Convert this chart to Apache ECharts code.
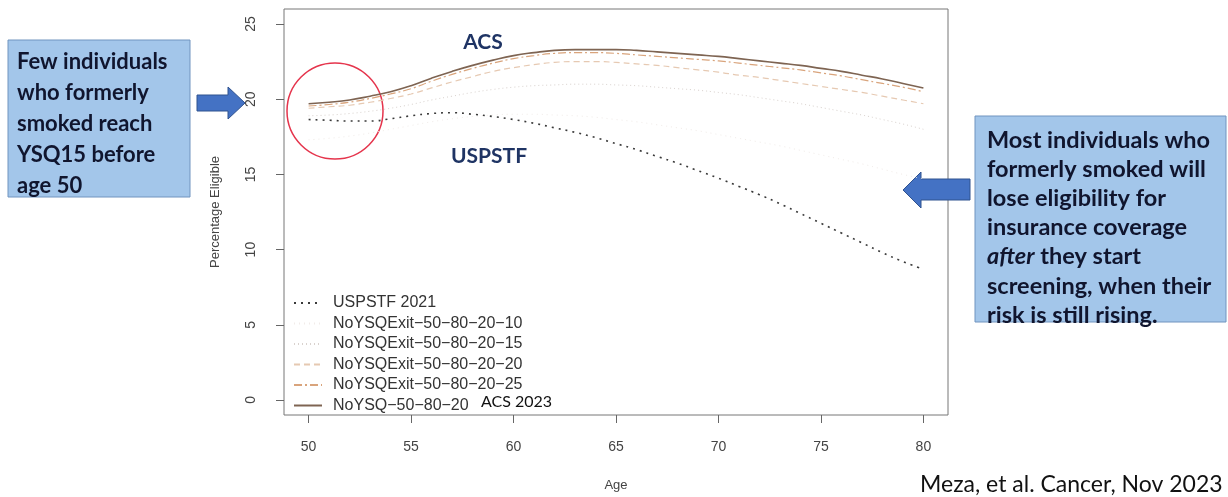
<!DOCTYPE html>
<html>
<head>
<meta charset="utf-8">
<script src="https://cdn.jsdelivr.net/npm/echarts@6/dist/echarts.min.js"></script>
<style>
  html, body { margin: 0; padding: 0; background: #fff; }
  #chart { width: 1228px; height: 497px; }
</style>
</head>
<body>
<div id="chart"></div>
<script>
// ages on the x axis
const ages = [50,51,52,53,54,55,56,57,58,59,60,61,62,63,64,65,66,67,68,69,70,71,72,73,74,75,76,77,78,79,80];

// percentage eligible
const uspstf2021 = [18.65,18.6,18.55,18.55,18.7,18.9,19.05,19.1,19.0,18.85,18.65,18.4,18.1,17.8,17.45,17.05,16.65,16.2,15.75,15.25,14.75,14.2,13.65,13.05,12.4,11.75,11.1,10.45,9.8,9.2,8.7];
const exit10 = [17.3,17.4,17.55,17.75,18.0,18.25,18.5,18.7,18.85,18.95,19.0,19.0,18.95,18.9,18.8,18.65,18.5,18.3,18.1,17.9,17.65,17.4,17.15,16.9,16.6,16.3,16.0,15.7,15.35,15.0,14.7];
const exit15 = [18.9,18.95,19.05,19.2,19.4,19.65,19.95,20.2,20.45,20.65,20.8,20.9,20.95,21.0,21.0,20.95,20.9,20.8,20.7,20.6,20.45,20.3,20.1,19.9,19.7,19.45,19.2,18.95,18.65,18.35,18.0];
const exit20 = [19.4,19.5,19.6,19.8,20.05,20.35,20.75,21.15,21.5,21.85,22.1,22.3,22.45,22.5,22.5,22.45,22.35,22.25,22.1,21.95,21.8,21.6,21.45,21.25,21.05,20.85,20.65,20.45,20.2,19.95,19.7];
const exit25 = [19.55,19.65,19.8,20.05,20.35,20.7,21.2,21.65,22.05,22.4,22.7,22.9,23.05,23.1,23.1,23.05,22.95,22.85,22.75,22.65,22.55,22.4,22.25,22.1,21.95,21.75,21.55,21.3,21.05,20.8,20.5];
const noYsq = [19.7,19.8,19.95,20.2,20.5,20.9,21.4,21.85,22.25,22.6,22.9,23.1,23.25,23.3,23.3,23.3,23.25,23.15,23.05,22.95,22.85,22.7,22.55,22.4,22.25,22.05,21.85,21.6,21.35,21.05,20.75];

const xTicks = [50,55,60,65,70,75,80];
const yTicks = [0,5,10,15,20,25];

const leftNote = ['Few individuals', 'who formerly', 'smoked reach', 'YSQ15 before', 'age 50'];
const rightNote = ['Most individuals who', 'formerly smoked will', 'lose eligibility for', 'insurance coverage', '{i|after} they start', 'screening, when their', 'risk is still rising.'];

function pairs(vals) {
  return ages.map((a, i) => [a, vals[i]]);
}

const chart = echarts.init(document.getElementById('chart'));

const axisFont = 'Liberation Sans, Arial, sans-serif';
const noteFont = 'Lato, "Open Sans", sans-serif';
const navy = '#1f3464';

function line(name, vals, color, width, type) {
  return {
    name: name,
    type: 'line',
    data: pairs(vals),
    symbol: 'none',
    smooth: true,
    silent: true,
    lineStyle: { color: color, width: width, type: type },
    itemStyle: { color: color }
  };
}

let graphics = [];
// left note box
graphics.push({
  type: 'rect', shape: { x: 8, y: 40, width: 182, height: 157 },
  style: { fill: '#a3c6ea', stroke: '#7094bf', lineWidth: 1 }
});
leftNote.forEach((t, i) => {
  graphics.push({
    type: 'text', x: 17, y: 62 + i * 31,
    style: { text: t, font: 'bold 22px ' + noteFont, fill: '#10152e', verticalAlign: 'middle' }
  });
});
// right note box
graphics.push({
  type: 'rect', shape: { x: 975, y: 116, width: 251, height: 206 },
  style: { fill: '#a3c6ea', stroke: '#7094bf', lineWidth: 1 }
});
rightNote.forEach((t, i) => {
  graphics.push({
    type: 'text', x: 987, y: 140 + i * 29.2,
    style: {
      text: t, font: 'bold 23.5px ' + noteFont, fill: '#10152e', verticalAlign: 'middle',
      rich: { i: { fontStyle: 'italic', fontWeight: 'bold', fontSize: 23.5, fontFamily: noteFont, fill: '#10152e' } }
    }
  });
});
// arrows
graphics.push({
  type: 'polygon',
  shape: { points: [[197,95],[228,95],[228,87],[245,103],[228,119],[228,111],[197,111]] },
  style: { fill: '#4472c4', stroke: '#2f528f', lineWidth: 1 }
});
graphics.push({
  type: 'polygon',
  shape: { points: [[970,179],[921,179],[921,172],[903,190],[921,208],[921,200],[970,200]] },
  style: { fill: '#4472c4', stroke: '#2f528f', lineWidth: 1 }
});
// red circle
graphics.push({
  type: 'circle', shape: { cx: 335, cy: 111, r: 48 },
  style: { fill: 'none', stroke: '#e5344c', lineWidth: 1.5 }
});
// labels
graphics.push({
  type: 'text', x: 483, y: 42,
  style: { text: 'ACS', font: 'bold 21px ' + noteFont, fill: navy, align: 'center', verticalAlign: 'middle' }
});
graphics.push({
  type: 'text', x: 489, y: 156,
  style: { text: 'USPSTF', font: 'bold 21px ' + noteFont, fill: navy, align: 'center', verticalAlign: 'middle' }
});
graphics.push({
  type: 'text', x: 481, y: 402,
  style: { text: 'ACS 2023', font: '16px ' + noteFont, fill: '#111', verticalAlign: 'middle' }
});
graphics.push({
  type: 'text', x: 920, y: 485,
  style: { text: 'Meza, et al. Cancer, Nov 2023', font: '23px ' + noteFont, fill: '#111', verticalAlign: 'middle' }
});

const option = {
  animation: false,
  backgroundColor: '#fff',
  grid: { left: 284, right: 280, top: 9, bottom: 79, show: true, borderColor: '#777', borderWidth: 1, backgroundColor: 'transparent' },
  xAxis: {
    type: 'value', min: 48.8, max: 81.2,
    name: 'Age', nameLocation: 'middle', nameGap: 64,
    nameTextStyle: { fontFamily: axisFont, fontSize: 13, color: '#444' },
    axisLine: { show: false, onZero: false },
    axisTick: { show: true, length: 8, customValues: xTicks, lineStyle: { color: '#666' } },
    axisLabel: { customValues: xTicks, fontFamily: axisFont, fontSize: 14, color: '#444', margin: 25 },
    splitLine: { show: false }
  },
  yAxis: {
    type: 'value', min: -1, max: 26,
    name: 'Percentage Eligible', nameLocation: 'middle', nameGap: 62,
    nameTextStyle: { fontFamily: axisFont, fontSize: 13, color: '#444' },
    axisLine: { show: false, onZero: false },
    axisTick: { show: true, length: 8, customValues: yTicks, lineStyle: { color: '#666' } },
    axisLabel: { customValues: yTicks, rotate: 90, fontFamily: axisFont, fontSize: 14, color: '#444', margin: 26 },
    splitLine: { show: false }
  },
  legend: {
    orient: 'vertical', left: 288, top: 290,
    itemWidth: 28, itemHeight: 14, itemGap: 4.5,
    itemStyle: { opacity: 0 },
    textStyle: { fontFamily: axisFont, fontSize: 16, color: '#333', padding: [0, 0, 0, 6] },
    selectedMode: false,
    data: ['USPSTF 2021', 'NoYSQExit\u221250\u221280\u221220\u221210', 'NoYSQExit\u221250\u221280\u221220\u221215',
           'NoYSQExit\u221250\u221280\u221220\u221220', 'NoYSQExit\u221250\u221280\u221220\u221225', 'NoYSQ\u221250\u221280\u221220']
  },
  series: [
    line('NoYSQExit\u221250\u221280\u221220\u221210', exit10, '#f1ece9', 1, [1, 4]),
    line('NoYSQExit\u221250\u221280\u221220\u221215', exit15, '#d9d2ce', 1, [1, 3]),
    line('NoYSQExit\u221250\u221280\u221220\u221220', exit20, '#e6c9b2', 1.2, [6, 4]),
    line('NoYSQExit\u221250\u221280\u221220\u221225', exit25, '#d9a47c', 1.2, [8, 3, 2, 3]),
    line('NoYSQ\u221250\u221280\u221220', noYsq, '#7e6452', 1.6, 'solid'),
    line('USPSTF 2021', uspstf2021, '#3a3a3a', 1.6, [2, 5])
  ],
  graphic: graphics
};

chart.setOption(option);
</script>
</body>
</html>
